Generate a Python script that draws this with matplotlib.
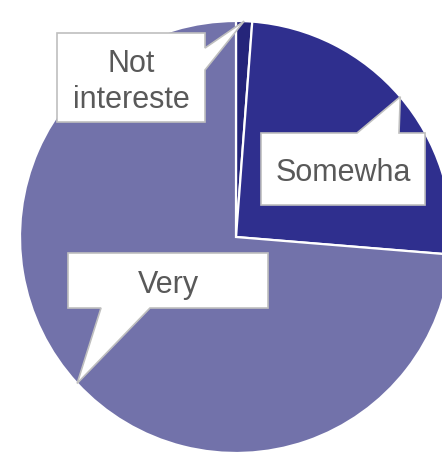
import numpy as np
import matplotlib.pyplot as plt
from matplotlib.patches import Polygon

W, H = 442, 463

labels = ['Not\nintereste', 'Somewha', 'Very']
values = [1.2, 25.1, 73.7]
colors = ['#25257a', '#2f2f8e', '#7272aa']
explode = [0, 0.012, 0]

# callout boxes in pixel layout (left, top, right, bottom), pointer side and base span
boxes = [(57, 33, 205, 122), (261, 133, 425, 205), (68, 253, 268, 308)]
sides = ['right', 'top', 'bottom']
bases = [(48, 70), (357, 399), (101, 150)]
line_step = 36

plt.rcParams['font.family'] = ['Liberation Sans', 'DejaVu Sans']

fig = plt.figure(figsize=(W / 100, H / 100), dpi=100)
ax = fig.add_axes([0, 0, 1, 1])

wedges, _ = ax.pie(values, startangle=90, counterclock=False,
                   center=(236, H - 237), radius=216, colors=colors,
                   explode=explode,
                   wedgeprops=dict(edgecolor='white', linewidth=1.6))
ax.set_xlim(0, W)
ax.set_ylim(0, H)
ax.set_aspect('equal')
ax.axis('off')


def fy(y):
    return H - y


for w, lab, (x0, y0, x1, y1), side, (b0, b1) in zip(wedges, labels, boxes, sides, bases):
    mid = np.radians((w.theta1 + w.theta2) / 2)
    tip = (w.center[0] + w.r * np.cos(mid), w.center[1] + w.r * np.sin(mid))
    if side == 'right':
        pts = [(x0, fy(y0)), (x1, fy(y0)), (x1, fy(b0)), tip, (x1, fy(b1)),
               (x1, fy(y1)), (x0, fy(y1))]
    elif side == 'top':
        pts = [(x0, fy(y0)), (b0, fy(y0)), tip, (b1, fy(y0)), (x1, fy(y0)),
               (x1, fy(y1)), (x0, fy(y1))]
    else:
        pts = [(x0, fy(y0)), (x1, fy(y0)), (x1, fy(y1)), (b1, fy(y1)), tip,
               (b0, fy(y1)), (x0, fy(y1))]
    ax.add_patch(Polygon(pts, closed=True, facecolor='white',
                         edgecolor='#bfbfbf', linewidth=1.2, zorder=3))
    lines = lab.split('\n')
    base = (y0 + y1) / 2 + 12 - (len(lines) - 1) * line_step / 2
    for i, line in enumerate(lines):
        ax.text((x0 + x1) / 2, fy(base + i * line_step), line, ha='center',
                va='baseline', fontsize=22, color='#595959', zorder=4)

fig.savefig('out.png', dpi=100)
